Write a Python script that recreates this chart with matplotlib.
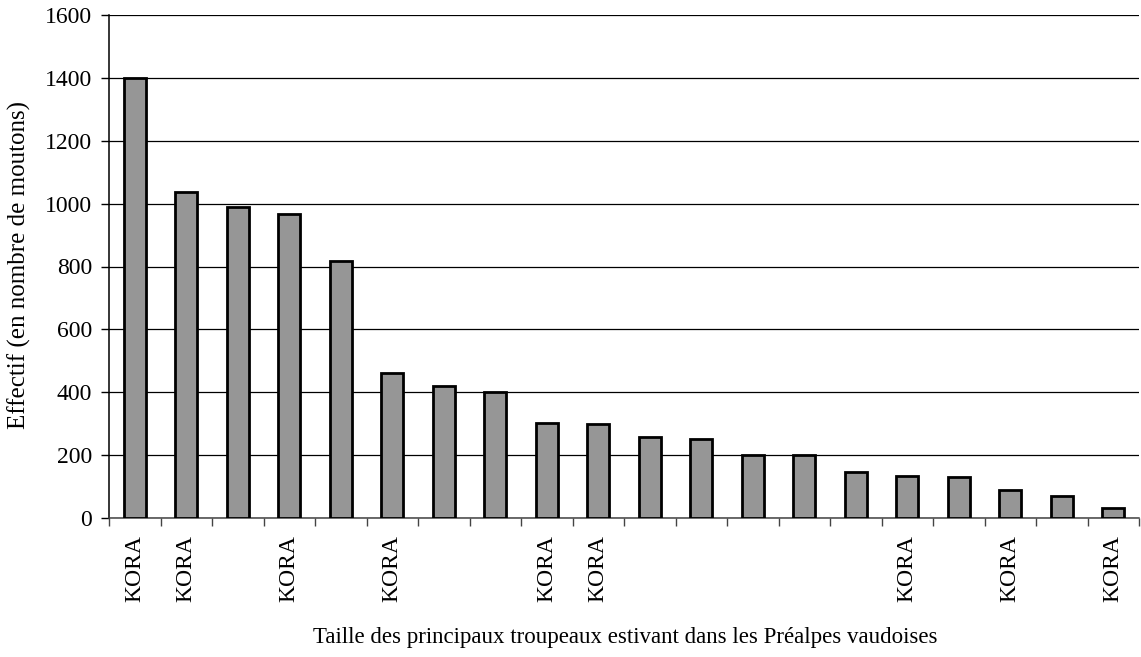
import matplotlib.pyplot as plt
import numpy as np

# effectif des troupeaux (nombre de moutons), du plus grand au plus petit
effectifs = [1400, 1037, 989, 967, 818, 461, 420, 401, 302, 299,
             258, 251, 200, 200, 147, 134, 131, 89, 70, 32]
etiquettes = ['KORA', 'KORA', '', 'KORA', '', 'KORA', '', '', 'KORA', 'KORA',
              '', '', '', '', '', 'KORA', '', 'KORA', '', 'KORA']
y_ticks = [0, 200, 400, 600, 800, 1000, 1200, 1400, 1600]

plt.rcParams['font.family'] = ['Liberation Serif', 'DejaVu Serif']
plt.rcParams['font.size'] = 17

fig = plt.figure(figsize=(11.41, 6.57), dpi=100)
ax = fig.add_axes([109 / 1141, 1 - 518 / 657, 1030 / 1141, 503 / 657])

x = np.arange(len(effectifs))
ax.bar(x, effectifs, width=0.43, color='#969696', edgecolor='black',
       linewidth=2.0, zorder=3)

ax.set_xlim(-0.5, len(effectifs) - 0.5)
ax.set_ylim(0, 1600)
ax.set_yticks(y_ticks)
ax.yaxis.grid(True, color='black', linewidth=0.9, zorder=0)
ax.set_axisbelow(True)

# etiquettes au centre des barres, traits entre les categories
ax.set_xticks(x)
ax.set_xticklabels(etiquettes, rotation=90, va='top')
ax.set_xticks(np.arange(len(effectifs) + 1) - 0.5, minor=True)
ax.tick_params(axis='x', which='major', length=0, pad=12.5)
ax.tick_params(axis='x', which='minor', length=6, direction='out', width=1, color='#444444')
ax.tick_params(axis='y', length=6, direction='out', width=1, pad=6)

for s in ['top', 'right']:
    ax.spines[s].set_visible(False)
ax.spines['left'].set_linewidth(1.1)
ax.spines['bottom'].set_linewidth(1.1)
ax.spines['bottom'].set_color('#444444')

ax.set_ylabel('Effectif (en nombre de moutons)', va='center', fontsize=18)
ax.yaxis.set_label_coords((19 - 109) / 1030, (518 - 265) / 503)
fig.text(625 / 1141, 1 - 637 / 657, 'Taille des principaux troupeaux estivant dans les Préalpes vaudoises',
         ha='center', va='center', fontsize=16.5)

fig.savefig('out.png', dpi=100)
